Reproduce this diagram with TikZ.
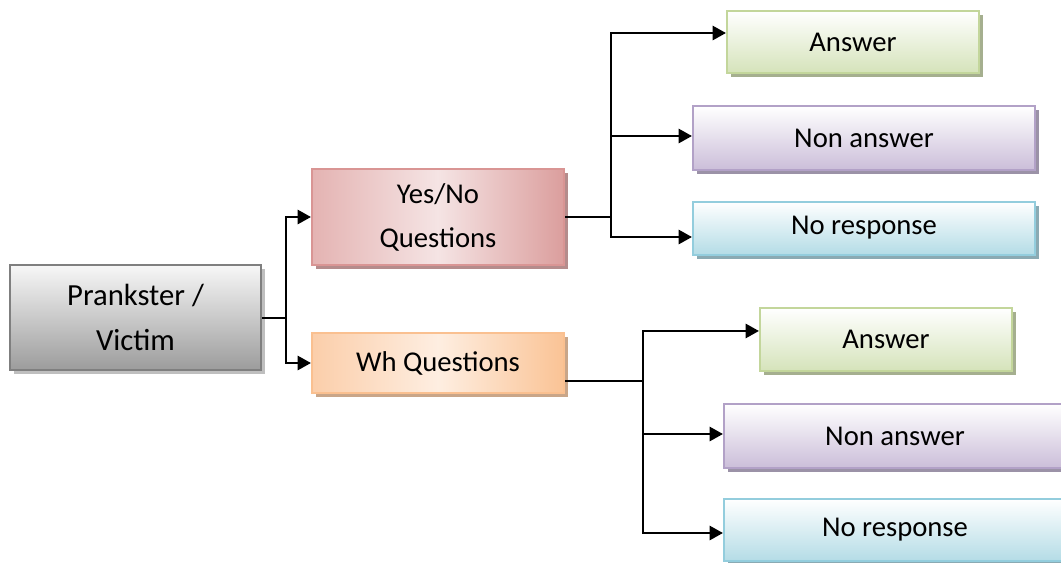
\documentclass[tikz,border=0pt]{standalone}
\usepackage{fontspec}
\setmainfont{Carlito}
\usetikzlibrary{arrows.meta,shadows}

\definecolor{grayline}{HTML}{7F7F7F}
\definecolor{graytop}{HTML}{F7F7F7}
\definecolor{graybot}{HTML}{9C9C9C}
\definecolor{redline}{HTML}{D99594}
\definecolor{redtop}{HTML}{E4B3B2}
\definecolor{redmid}{HTML}{F5E4E4}
\definecolor{redbot}{HTML}{DB9E9D}
\definecolor{orgline}{HTML}{FAC090}
\definecolor{orgtop}{HTML}{FBCEAA}
\definecolor{orgmid}{HTML}{FEEEE1}
\definecolor{orgbot}{HTML}{FAC395}
\definecolor{grnline}{HTML}{C3D69B}
\definecolor{grnbot}{HTML}{D5E3BA}
\definecolor{purline}{HTML}{B2A1C7}
\definecolor{purbot}{HTML}{CBBED9}
\definecolor{bluline}{HTML}{93CDDD}
\definecolor{blubot}{HTML}{B4DCE6}

\begin{document}
\begin{tikzpicture}[x=0.75pt,y=-0.75pt,
  box/.style={rectangle,draw,line width=1.5pt,inner sep=0pt,align=center,
    font=\fontsize{21.5}{33}\selectfont},
  graybox/.style={box,draw=grayline,top color=graytop,bottom color=graybot,
    drop shadow={shadow xshift=3pt,shadow yshift=-3pt,fill=black!25,opacity=1}},
  redbox/.style={box,draw=redline,left color=redtop,right color=redbot,middle color=redmid,
    drop shadow={shadow xshift=3pt,shadow yshift=-3pt,fill=redline!60!gray,opacity=1}},
  orgbox/.style={box,draw=orgline,left color=orgtop,right color=orgbot,middle color=orgmid,
    drop shadow={shadow xshift=3pt,shadow yshift=-3pt,fill=orgline!60!gray,opacity=1}},
  grnbox/.style={box,draw=grnline,top color=white,bottom color=grnbot,
    drop shadow={shadow xshift=3pt,shadow yshift=-3pt,fill=grnline!55!gray,opacity=1}},
  purbox/.style={box,draw=purline,top color=white,bottom color=purbot,
    drop shadow={shadow xshift=3pt,shadow yshift=-3pt,fill=purline!55!gray,opacity=1}},
  blubox/.style={box,draw=bluline,top color=white,bottom color=blubot,
    drop shadow={shadow xshift=3pt,shadow yshift=-3pt,fill=bluline!55!gray,opacity=1}},
  link/.style={black,line width=1.5pt},
  arr/.style={black,line width=2pt,-{Triangle[length=10pt,width=10.5pt]}}]
\useasboundingbox (0,0) rectangle (1061,562);
% boxes
\node [graybox,minimum width=188.25pt,minimum height=78.75pt,
  font=\fontsize{23}{34}\selectfont] (main) at (135.5,317.5) {Prankster /\\Victim};
\node [redbox,minimum width=189pt,minimum height=72pt] (yesno) at (438,217) {Yes/No\\Questions};
\node [orgbox,minimum width=189pt,minimum height=45pt] (wh) at (438,363) {Wh Questions};
\node [grnbox,minimum width=189pt,minimum height=46.5pt] (ans1) at (853,42) {Answer};
\node [purbox,minimum width=256.5pt,minimum height=48pt] (non1) at (864,138) {Non answer};
\node [blubox,minimum width=256.5pt,minimum height=39.75pt] (nores1) at (864,228) {No response};
\node [grnbox,minimum width=189pt,minimum height=47.25pt] (ans2) at (886,339.5) {Answer};
\node [purbox,minimum width=256.5pt,minimum height=48pt] (non2) at (895,436) {Non answer};
\node [blubox,minimum width=256.5pt,minimum height=46.5pt] (nores2) at (895,530) {No response};
% junctions
\coordinate (j0) at (286,317.5);
\coordinate (j1) at (611,217);
\coordinate (j2) at (643,381);
% connectors
\draw [link] (main.east) -- (j0);
\draw [arr] (j0) |- (yesno.west);
\draw [arr] (j0) |- (wh.west);
\draw [link] (yesno.east) -- (j1);
\draw [arr] (j1) |- ([yshift=6.75pt]ans1.west);
\draw [arr] (j1) |- ([yshift=1.5pt]non1.west);
\draw [arr] (j1) |- ([yshift=-6.75pt]nores1.west);
\draw [link] ([yshift=-13.5pt]wh.east) -- (j2);
\draw [arr] (j2) |- ([yshift=6.4pt]ans2.west);
\draw [arr] (j2) |- ([yshift=1.5pt]non2.west);
\draw [arr] (j2) |- ([yshift=-2.25pt]nores2.west);
\end{tikzpicture}
\end{document}
